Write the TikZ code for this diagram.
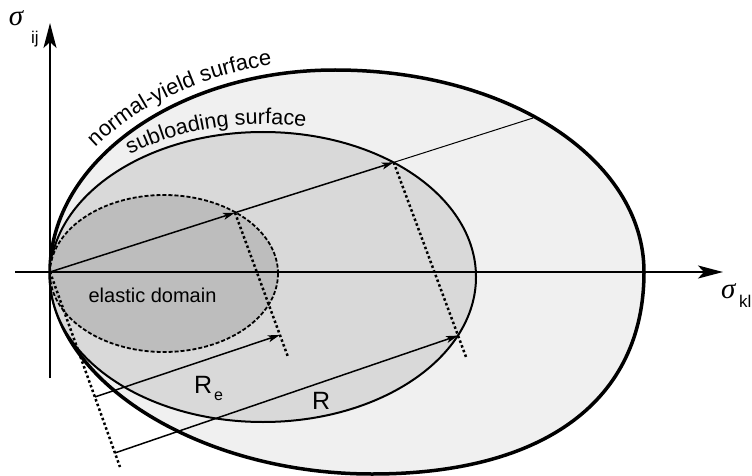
\documentclass[tikz,border=0pt]{standalone}
\usepackage{fontspec}
\setmainfont{Liberation Sans}
\newfontfamily\greekserif{Liberation Serif}
\usetikzlibrary{arrows.meta,calc,decorations.text}
\definecolor{outerfill}{gray}{0.94}
\definecolor{subfill}{gray}{0.85}
\definecolor{elafill}{gray}{0.74}
\begin{document}
\begin{tikzpicture}[x=1pt,y=1pt,
  every node/.style={inner sep=0pt, outer sep=0pt},
  axisline/.style={line width=2.4pt, -{Stealth[length=25pt,width=13pt,inset=6pt]}},
  radial/.style={line width=1.5pt, -{Stealth[length=12pt,width=7pt,inset=3pt]}},
  dotline/.style={line width=2.5pt, dash pattern=on 2.5pt off 2.5pt},
  lbl/.style={font=\fontsize{20}{24}\selectfont},
]
\useasboundingbox (0,0) rectangle (752,-476);

% key points
\coordinate (O) at (50,-272);
\coordinate (T) at (335,-70);
\coordinate (Rt) at (644,-272);
\coordinate (B) at (372,-474);
\coordinate (SC) at (263,-277);
\coordinate (EC) at (164,-273.5);
\coordinate (OC) at (335,-272);

% normal-yield surface
\draw[line width=3.5pt, fill=outerfill]
  (O) .. controls (50,-161) and (178,-70) .. (T)
      .. controls (508,-70) and (644,-159) .. (Rt)
      .. controls (644,-400) and (545,-474) .. (B)
      .. controls (200,-474) and (50,-381) .. cycle;

% subloading surface
\draw[line width=2pt, fill=subfill] (SC) ellipse [x radius=213pt, y radius=145pt];

% elastic domain
\draw[line width=1.8pt, dash pattern=on 4pt off 2pt, fill=elafill] (EC) ellipse [x radius=114pt, y radius=78.5pt];

% axes
\coordinate (xs) at (15,-272);
\coordinate (xe) at (723,-272);
\coordinate (ys) at (50,-378);
\coordinate (ye) at (50,-23);
\draw[axisline] (xs) -- (xe);
\draw[axisline] (ys) -- (ye);

% radial line
\coordinate (E) at (235,-212.7);
\coordinate (S) at (393.7,-162.4);
\coordinate (N) at (533,-118);
\draw[radial] (O) -- (E);
\draw[radial] (E) -- (S);
\draw[line width=1pt] (S) -- (N);

% dotted lines
\coordinate (D1) at (120,-467);
\coordinate (D2) at (288,-357);
\coordinate (D3) at (466,-357);
\draw[dotline] (O) -- (D1);
\draw[dotline] (E) -- (D2);
\draw[dotline] (S) -- (D3);

% R arrows
\coordinate (T1) at ($(O)!0.641!(D1)$);
\coordinate (H1) at ($(E)!0.847!(D2)$);
\coordinate (T2) at ($(O)!0.928!(D1)$);
\coordinate (H2) at ($(S)!0.89!(D3)$);
\draw[radial] (T1) -- (H1);
\draw[radial] (T2) -- (H2);

% labels
\node[lbl, anchor=base] (ed) at (152.5,-302.5) {elastic domain};
\node[font=\fontsize{25}{30}\selectfont, anchor=base west] (Re) at (194,-393) {R};
\node[font=\fontsize{16}{19}\selectfont, anchor=base west] (Rsub) at (214,-400) {e};
\node[font=\fontsize{25}{30}\selectfont, anchor=base west] (R) at (312,-409) {R};

\node[anchor=base west] (sij) at (9,-26) {\fontsize{29}{33}\selectfont\greekserif\itshape σ};
\node[anchor=base west, font=\fontsize{17}{20}\selectfont] (ij) at (31,-44) {ij};
\node[anchor=base west] (skl) at (721,-298) {\fontsize{29}{33}\selectfont\greekserif\itshape σ};
\node[anchor=base west, font=\fontsize{17}{20}\selectfont] (kl) at (739,-307) {kl};

% curved labels
\path[decorate, decoration={text along path, text={|\fontsize{22}{26}\selectfont|normal-yield surface}}]
  ($(OC)+(144:296pt and 212pt)$) arc[start angle=144, end angle=70, x radius=296pt, y radius=212pt];
\path[decorate, decoration={text along path, text={|\fontsize{21.5}{26}\selectfont|subloading surface}}]
  ($(SC)+(127:221pt and 153pt)$) arc[start angle=127, end angle=55, x radius=221pt, y radius=153pt];
\end{tikzpicture}
\end{document}
